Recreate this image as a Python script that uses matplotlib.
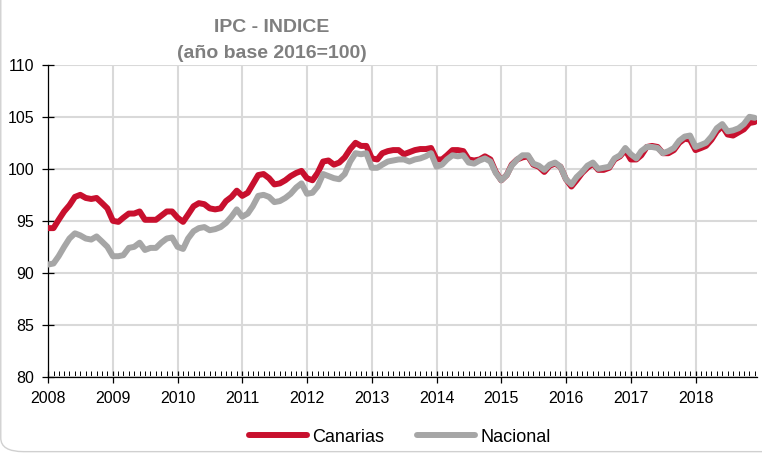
import numpy as np
import pandas as pd
import matplotlib
matplotlib.use("Agg")
import matplotlib.pyplot as plt
import matplotlib.dates as mdates
from matplotlib.patches import FancyBboxPatch

# Datos mensuales ene-2008 .. dic-2018
fechas = pd.date_range("2008-01-01", "2018-12-01", freq="MS")

canarias = [
    # 2008
    94.3, 94.3, 95.1, 95.9, 96.5, 97.3, 97.5, 97.2, 97.1, 97.2, 96.7, 96.2,
    # 2009
    95.0, 94.9, 95.3, 95.7, 95.7, 95.9, 95.1, 95.1, 95.1, 95.5, 95.9, 95.9,
    # 2010
    95.3, 94.9, 95.6, 96.4, 96.7, 96.6, 96.2, 96.1, 96.2, 96.9, 97.3, 97.9,
    # 2011
    97.4, 97.7, 98.5, 99.4, 99.5, 99.1, 98.5, 98.6, 98.9, 99.3, 99.6, 99.8,
    # 2012
    99.1, 98.9, 99.6, 100.7, 100.8, 100.4, 100.6, 101.1, 101.9, 102.5, 102.2, 102.2,
    # 2013
    101.0, 100.9, 101.5, 101.7, 101.8, 101.8, 101.4, 101.6, 101.8, 101.9, 101.9, 102.0,
    # 2014
    100.9, 100.9, 101.3, 101.8, 101.8, 101.7, 100.9, 100.8, 100.9, 101.2, 100.9, 99.7,
    # 2015
    98.9, 99.4, 100.4, 100.9, 101.1, 101.2, 100.4, 100.2, 99.7, 100.3, 100.5, 100.2,
    # 2016
    99.0, 98.3, 98.9, 99.6, 100.1, 100.5, 99.9, 99.9, 100.1, 100.9, 101.2, 101.8,
    # 2017
    100.9, 100.9, 101.3, 102.1, 102.2, 102.1, 101.5, 101.5, 101.8, 102.5, 102.9, 102.8,
    # 2018
    101.8, 102.0, 102.2, 102.8, 103.6, 104.1, 103.3, 103.2, 103.5, 103.8, 104.4, 104.5,
]

nacional = [
    # 2008
    90.8, 90.9, 91.6, 92.5, 93.3, 93.8, 93.6, 93.3, 93.2, 93.5, 93.0, 92.5,
    # 2009
    91.6, 91.6, 91.7, 92.4, 92.5, 92.9, 92.2, 92.4, 92.4, 92.9, 93.3, 93.4,
    # 2010
    92.5, 92.3, 93.3, 94.0, 94.3, 94.4, 94.1, 94.2, 94.4, 94.8, 95.4, 96.1,
    # 2011
    95.4, 95.7, 96.4, 97.4, 97.5, 97.3, 96.8, 96.9, 97.2, 97.6, 98.2, 98.6,
    # 2012
    97.6, 97.7, 98.3, 99.5, 99.3, 99.1, 99.0, 99.5, 100.7, 101.5, 101.4, 101.5,
    # 2013
    100.1, 100.1, 100.4, 100.7, 100.8, 100.9, 100.9, 100.7, 100.9, 101.0, 101.2, 101.5,
    # 2014
    100.2, 100.4, 100.9, 101.3, 101.2, 101.3, 100.6, 100.5, 100.8, 101.0, 100.7, 99.6,
    # 2015
    98.9, 99.4, 100.3, 100.9, 101.3, 101.3, 100.5, 100.3, 99.9, 100.4, 100.6, 100.2,
    # 2016
    99.0, 98.5, 99.2, 99.7, 100.3, 100.6, 100.0, 100.1, 100.2, 101.0, 101.3, 102.0,
    # 2017
    101.4, 101.0, 101.7, 102.1, 102.1, 102.0, 101.5, 101.7, 102.0, 102.7, 103.1, 103.2,
    # 2018
    102.1, 102.3, 102.5, 103.1, 103.9, 104.3, 103.6, 103.7, 103.9, 104.3, 105.0, 104.9,
]

color_can = "#c8102e"
color_nac = "#a6a6a6"

plt.rcParams['font.family'] = ['Liberation Sans', 'DejaVu Sans']

fig = plt.figure(figsize=(7.62, 4.53), dpi=100)
ax = fig.add_axes([0.063, 0.168, 0.930, 0.689])

# marco redondeado (solo se ve el borde izquierdo e inferior)
marco = FancyBboxPatch((0.001, 0.003), 1.2, 1.2, boxstyle="round,pad=0,rounding_size=0.03",
                       transform=fig.transFigure, facecolor="white", edgecolor="#d0d0d0",
                       linewidth=1.0, zorder=-10)
fig.patches.append(marco)

ax.plot(fechas, canarias, color=color_can, linewidth=4.3, label="Canarias",
        solid_capstyle="round", solid_joinstyle="round", zorder=3)
ax.plot(fechas, nacional, color=color_nac, linewidth=4.3, label="Nacional",
        solid_capstyle="round", solid_joinstyle="round", zorder=4)

ax.set_ylim(80, 110)
ax.set_yticks(np.arange(80, 111, 5))
ax.set_xlim(pd.Timestamp("2008-01-01"), pd.Timestamp("2018-12-12"))
ax.xaxis.set_major_locator(mdates.YearLocator())
ax.xaxis.set_major_formatter(mdates.DateFormatter("%Y"))
ax.xaxis.set_minor_locator(mdates.MonthLocator())

ax.grid(True, which="major", color="#d9d9d9", linewidth=1.5, zorder=0)
ax.set_axisbelow(True)
for s in ["top", "right"]:
    ax.spines[s].set_visible(False)
ax.spines["left"].set_linewidth(0.9)
ax.spines["bottom"].set_linewidth(0.9)

ax.tick_params(axis="both", which="major", direction="inout", length=8, width=0.9,
               labelsize=11.5, colors="black")
ax.tick_params(axis="x", which="minor", direction="in", length=4, width=0.7)
ax.tick_params(axis="x", which="major", pad=6)
ax.tick_params(axis="y", which="major", pad=6)

fig.text(0.357, 0.94, "IPC - INDICE", ha="center", va="center", fontsize=14,
         fontweight="bold", color="#7f7f7f")
fig.text(0.357, 0.883, "(año base 2016=100)", ha="center", va="center", fontsize=14,
         fontweight="bold", color="#7f7f7f")

leg = fig.legend(loc="center", bbox_to_anchor=(0.525, 0.035), ncol=2, frameon=False,
                 fontsize=13, handlelength=3.2, handletextpad=0.3, columnspacing=1.8)

fig.savefig("out.png", dpi=100)
